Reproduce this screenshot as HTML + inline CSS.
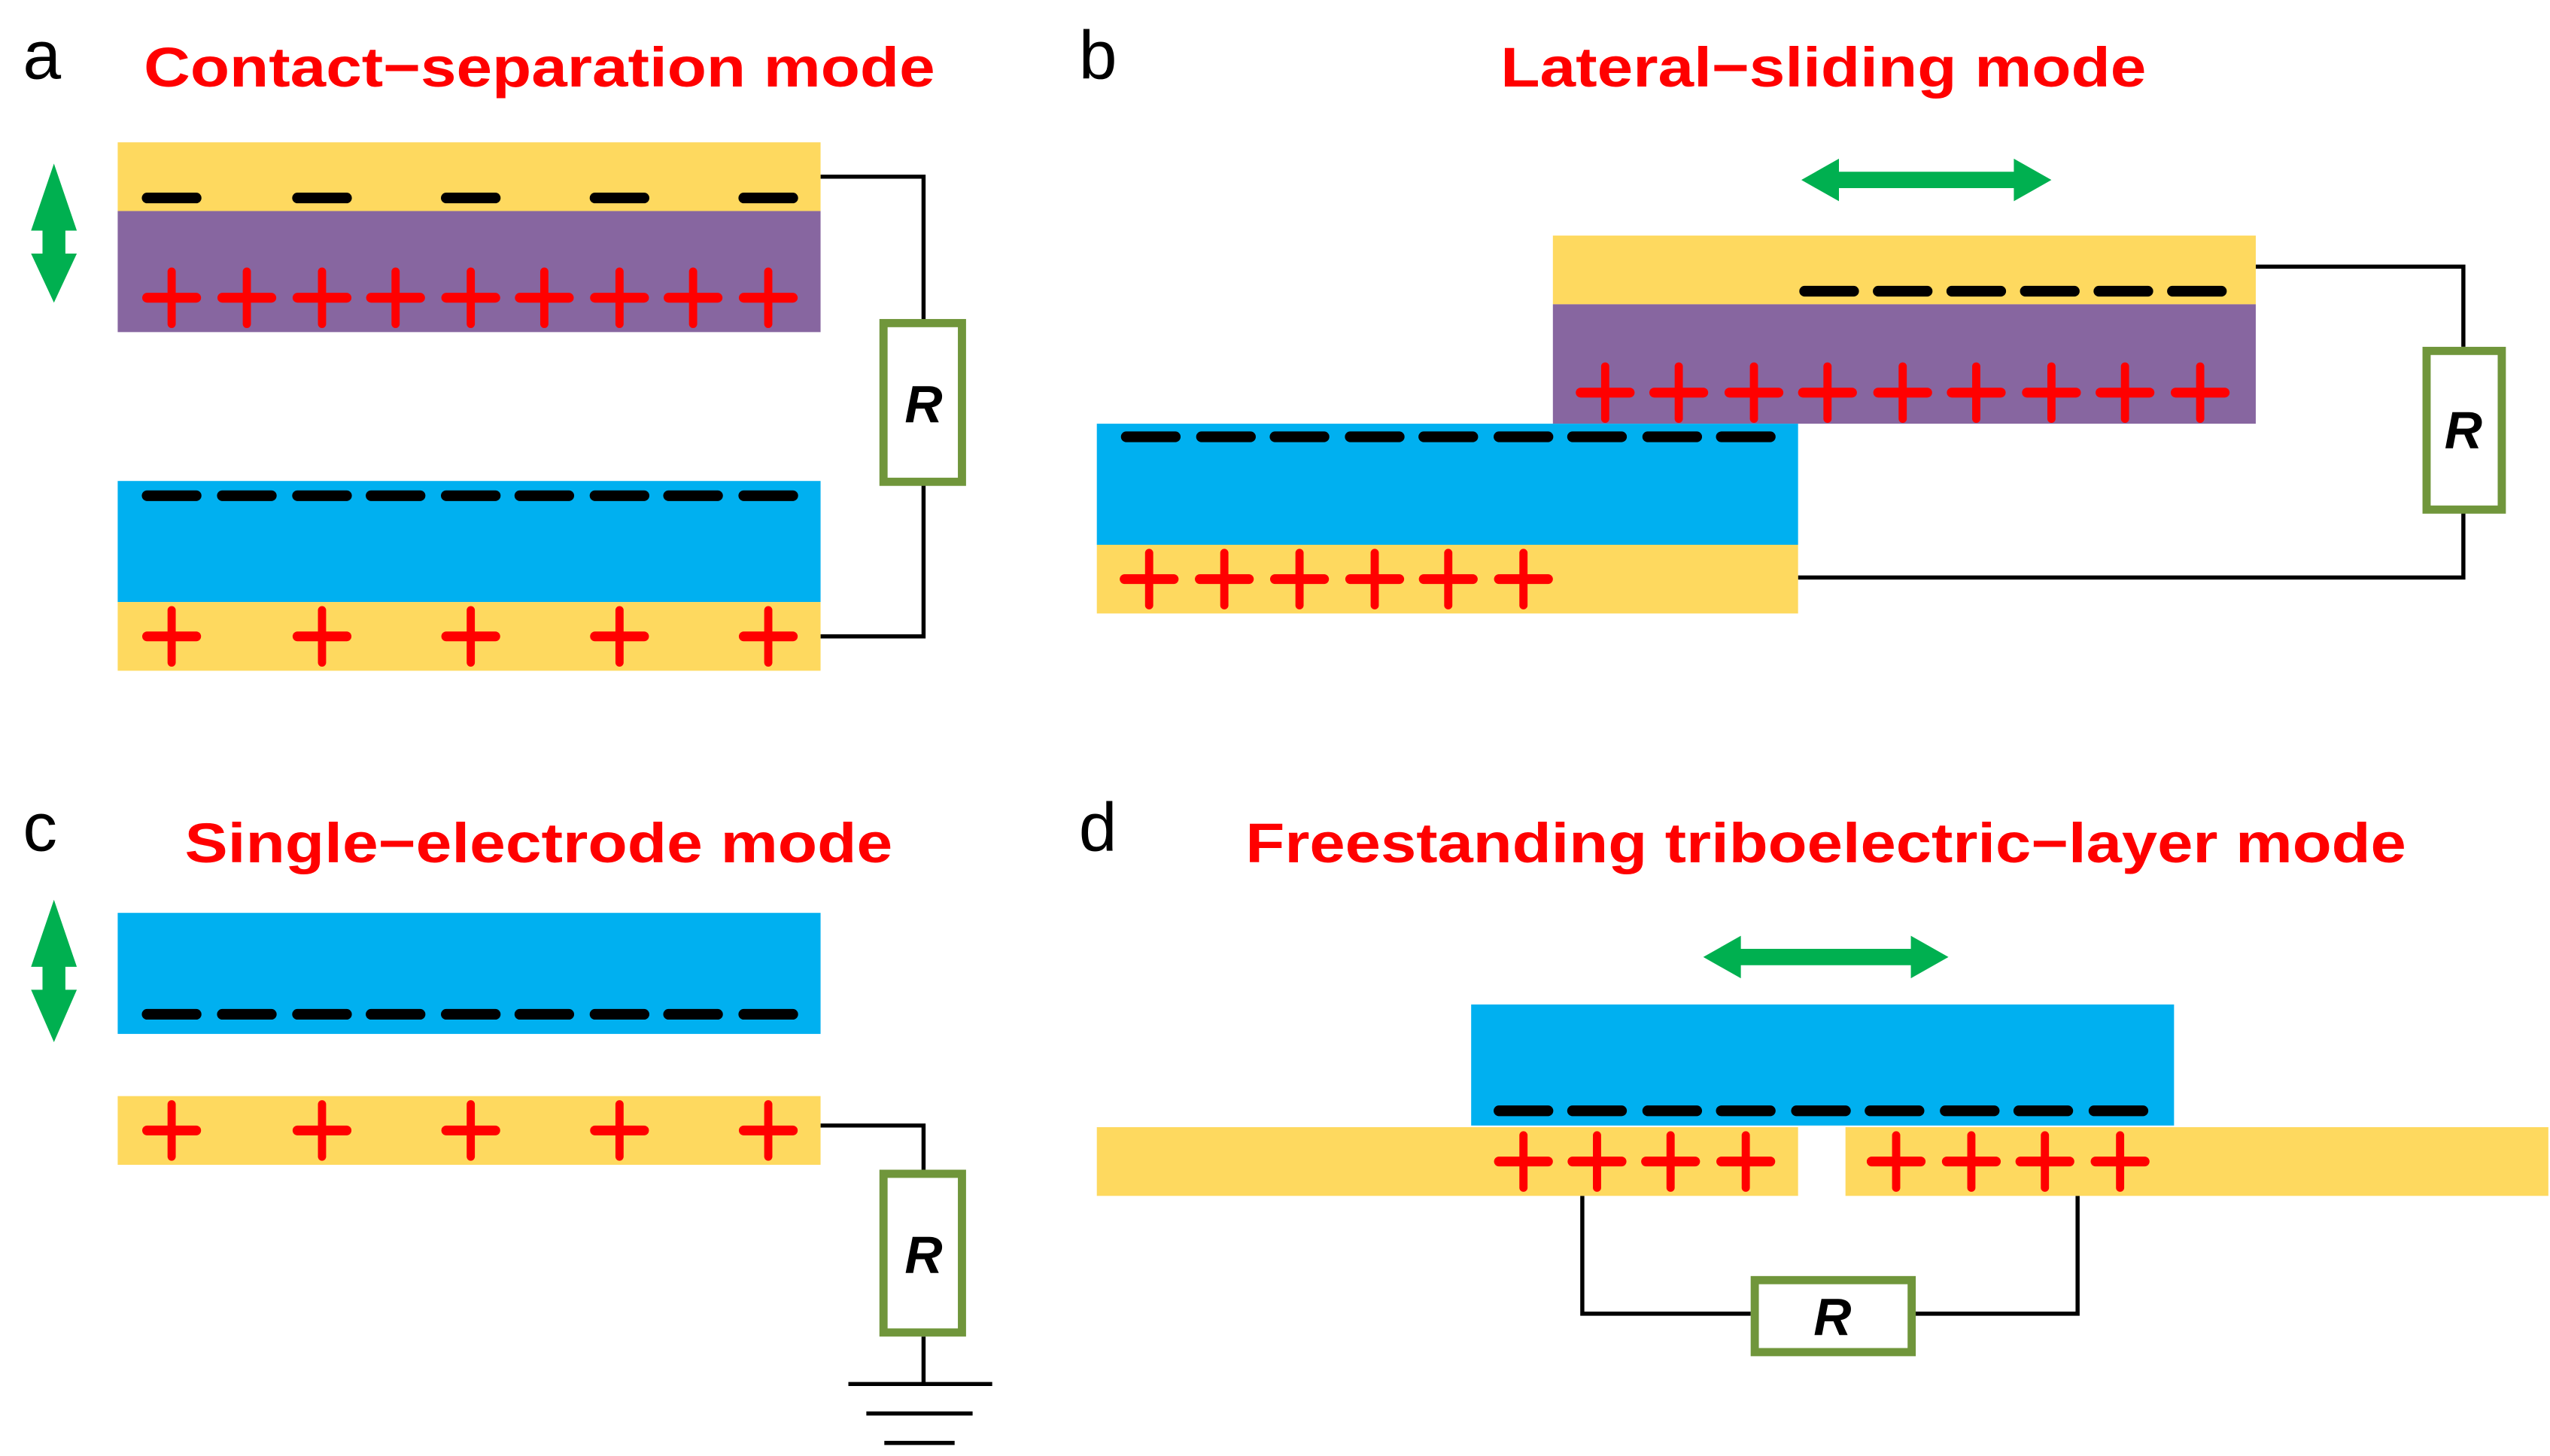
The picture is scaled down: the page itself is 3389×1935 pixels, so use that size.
<!DOCTYPE html>
<html><head><meta charset="utf-8"><style>html,body{margin:0;padding:0;background:#fff}svg{display:block}</style></head>
<body>
<svg width="3389" height="1935" viewBox="0 0 1560 890" preserveAspectRatio="none" xmlns="http://www.w3.org/2000/svg">
<defs>
<g id="p"><line x1="-15" y1="0" x2="15" y2="0" stroke="#ff0000" stroke-width="6" stroke-linecap="round"/><line x1="0" y1="-16" x2="0" y2="16" stroke="#ff0000" stroke-width="5" stroke-linecap="round"/></g>
<g id="m"><line x1="-15" y1="0" x2="15" y2="0" stroke="#000" stroke-width="6.5" stroke-linecap="round"/></g>
</defs>
<g font-family="Liberation Sans, Arial, sans-serif">
<text x="14" y="48" font-size="42" fill="#000">a</text>
<text x="660" y="48" font-size="42" fill="#000">b</text>
<text x="14" y="520" font-size="42" fill="#000">c</text>
<text x="660" y="520" font-size="42" fill="#000">d</text>
<g font-weight="bold" fill="#ff0000" font-size="34">
<text x="88" y="53" textLength="484" lengthAdjust="spacingAndGlyphs">Contact−separation mode</text>
<text x="918" y="53" textLength="395" lengthAdjust="spacingAndGlyphs">Lateral−sliding mode</text>
<text x="113" y="527" textLength="433" lengthAdjust="spacingAndGlyphs">Single−electrode mode</text>
<text x="762" y="527" textLength="710" lengthAdjust="spacingAndGlyphs">Freestanding triboelectric−layer mode</text>
</g>
</g>
<g fill="none" stroke="#000" stroke-width="2.5">
<polyline points="502,108 565,108 565,195"/><polyline points="565,296 565,389 502,389"/>
<polyline points="1380,163 1507,163 1507,212"/><polyline points="1507,313 1507,353 1100,353"/>
<polyline points="502,688 565,688 565,715"/><polyline points="565,817 565,846"/>
<line x1="519" y1="846" x2="607" y2="846"/><line x1="530" y1="864" x2="595" y2="864"/><line x1="541" y1="882" x2="584" y2="882"/>
<polyline points="968,731 968,803 1071,803"/><polyline points="1171,803 1271,803 1271,731"/>
</g>
<!-- panel a -->
<rect x="72" y="87" width="430" height="42" fill="#fed95f"/>
<rect x="72" y="129" width="430" height="74" fill="#8766a0"/>
<rect x="72" y="294" width="430" height="74" fill="#00b0f0"/>
<rect x="72" y="368" width="430" height="42" fill="#fed95f"/>
<g transform="translate(0,121)"><use href="#m" x="105"/><use href="#m" x="197"/><use href="#m" x="288"/><use href="#m" x="379"/><use href="#m" x="470"/></g>
<g transform="translate(0,182)"><use href="#p" x="105"/><use href="#p" x="151"/><use href="#p" x="197"/><use href="#p" x="242"/><use href="#p" x="288"/><use href="#p" x="333"/><use href="#p" x="379"/><use href="#p" x="424"/><use href="#p" x="470"/></g>
<g transform="translate(0,303)"><use href="#m" x="105"/><use href="#m" x="151"/><use href="#m" x="197"/><use href="#m" x="242"/><use href="#m" x="288"/><use href="#m" x="333"/><use href="#m" x="379"/><use href="#m" x="424"/><use href="#m" x="470"/></g>
<g transform="translate(0,389)"><use href="#p" x="105"/><use href="#p" x="197"/><use href="#p" x="288"/><use href="#p" x="379"/><use href="#p" x="470"/></g>
<polygon points="33,100 47,141 40,141 40,155 47,155 33,185 19,155 26,155 26,141 19,141" fill="#00b050"/>
<rect x="540.5" y="197.5" width="48" height="97" fill="#fff" stroke="#70963b" stroke-width="5"/>
<text x="565" y="258" font-family="Liberation Sans, Arial, sans-serif" font-size="32" font-weight="bold" font-style="italic" text-anchor="middle">R</text>
<!-- panel b -->
<rect x="950" y="144" width="430" height="42" fill="#fed95f"/>
<rect x="950" y="186" width="430" height="73" fill="#8766a0"/>
<rect x="671" y="259" width="429" height="74" fill="#00b0f0"/>
<rect x="671" y="333" width="429" height="42" fill="#fed95f"/>
<g transform="translate(0,178)"><use href="#m" x="1119"/><use href="#m" x="1164"/><use href="#m" x="1209"/><use href="#m" x="1254"/><use href="#m" x="1299"/><use href="#m" x="1344"/></g>
<g transform="translate(0,240)"><use href="#p" x="982"/><use href="#p" x="1027"/><use href="#p" x="1073"/><use href="#p" x="1118"/><use href="#p" x="1164"/><use href="#p" x="1209"/><use href="#p" x="1255"/><use href="#p" x="1300"/><use href="#p" x="1346"/></g>
<g transform="translate(0,267)"><use href="#m" x="704"/><use href="#m" x="750"/><use href="#m" x="795"/><use href="#m" x="841"/><use href="#m" x="886"/><use href="#m" x="932"/><use href="#m" x="977"/><use href="#m" x="1023"/><use href="#m" x="1068"/></g>
<g transform="translate(0,354)"><use href="#p" x="703"/><use href="#p" x="749"/><use href="#p" x="795"/><use href="#p" x="841"/><use href="#p" x="886"/><use href="#p" x="932"/></g>
<polygon points="1102,110 1125,97 1125,105 1232,105 1232,97 1255,110 1232,123 1232,115 1125,115 1125,123" fill="#00b050"/>
<rect x="1484.5" y="214.5" width="46" height="97" fill="#fff" stroke="#70963b" stroke-width="5"/>
<text x="1507" y="274" font-family="Liberation Sans, Arial, sans-serif" font-size="32" font-weight="bold" font-style="italic" text-anchor="middle">R</text>
<!-- panel c -->
<rect x="72" y="558" width="430" height="74" fill="#00b0f0"/>
<rect x="72" y="670" width="430" height="42" fill="#fed95f"/>
<g transform="translate(0,620)"><use href="#m" x="105"/><use href="#m" x="151"/><use href="#m" x="197"/><use href="#m" x="242"/><use href="#m" x="288"/><use href="#m" x="333"/><use href="#m" x="379"/><use href="#m" x="424"/><use href="#m" x="470"/></g>
<g transform="translate(0,691)"><use href="#p" x="105"/><use href="#p" x="197"/><use href="#p" x="288"/><use href="#p" x="379"/><use href="#p" x="470"/></g>
<polygon points="33,550 47,591 40,591 40,605 47,605 33,637 19,605 26,605 26,591 19,591" fill="#00b050"/>
<rect x="540.5" y="717.5" width="48" height="97" fill="#fff" stroke="#70963b" stroke-width="5"/>
<text x="565" y="778" font-family="Liberation Sans, Arial, sans-serif" font-size="32" font-weight="bold" font-style="italic" text-anchor="middle">R</text>
<!-- panel d -->
<rect x="900" y="614" width="430" height="74" fill="#00b0f0"/>
<rect x="671" y="689" width="429" height="42" fill="#fed95f"/>
<rect x="1129" y="689" width="430" height="42" fill="#fed95f"/>
<g transform="translate(0,679)"><use href="#m" x="932"/><use href="#m" x="977"/><use href="#m" x="1023"/><use href="#m" x="1068"/><use href="#m" x="1114"/><use href="#m" x="1159"/><use href="#m" x="1205"/><use href="#m" x="1250"/><use href="#m" x="1296"/></g>
<g transform="translate(0,710)"><use href="#p" x="932"/><use href="#p" x="977"/><use href="#p" x="1022"/><use href="#p" x="1068"/><use href="#p" x="1160"/><use href="#p" x="1206"/><use href="#p" x="1251"/><use href="#p" x="1297"/></g>
<polygon points="1042,585 1065,572 1065,580 1169,580 1169,572 1192,585 1169,598 1169,590 1065,590 1065,598" fill="#00b050"/>
<rect x="1073.5" y="782.5" width="96" height="44" fill="#fff" stroke="#70963b" stroke-width="5"/>
<text x="1121" y="816" font-family="Liberation Sans, Arial, sans-serif" font-size="32" font-weight="bold" font-style="italic" text-anchor="middle">R</text>
</svg>
</body></html>
